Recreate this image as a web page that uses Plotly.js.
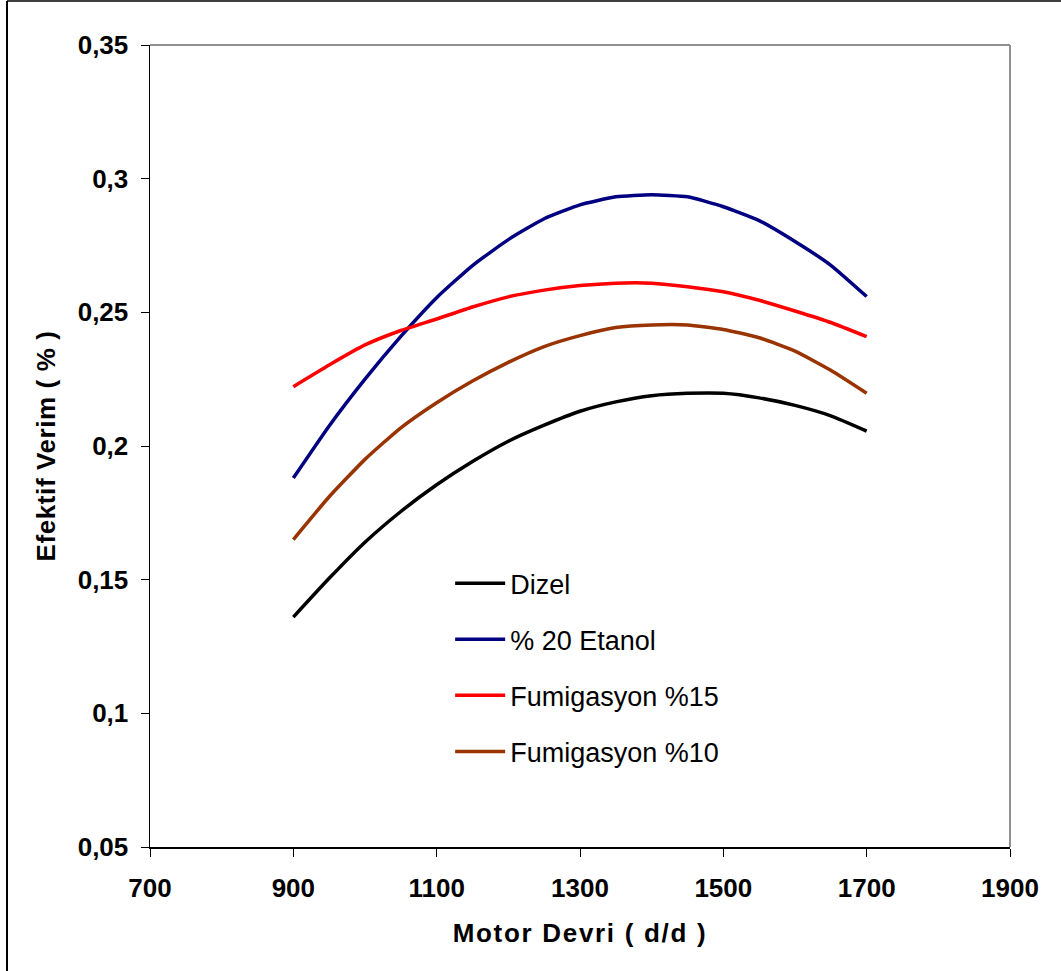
<!DOCTYPE html>
<html>
<head>
<meta charset="utf-8">
<script src="https://cdn.plot.ly/plotly-3.0.1.min.js"></script>
<style>html,body{margin:0;padding:0;background:#fff;}#chart{width:1061px;height:971px;}</style>
</head>
<body>
<div id="chart"></div>
<script>
const rpm = [900, 950, 1000, 1050, 1100, 1150, 1200, 1250, 1300, 1350, 1400, 1450, 1500, 1550, 1600, 1650, 1700];
const dizel = [0.136, 0.1505, 0.1640, 0.1755, 0.1855, 0.1942, 0.2018, 0.2078, 0.2130, 0.2165, 0.2188, 0.2197, 0.2197, 0.2180, 0.2152, 0.2113, 0.2056];
const etanol20 = [0.188, 0.2075, 0.2250, 0.2410, 0.2555, 0.2675, 0.2772, 0.2850, 0.2902, 0.2932, 0.2940, 0.2932, 0.2895, 0.2843, 0.2765, 0.2676, 0.2559];
const fumigasyon15 = [0.2222, 0.2303, 0.2378, 0.2432, 0.2475, 0.2520, 0.2558, 0.2583, 0.2600, 0.2609, 0.2609, 0.2596, 0.2577, 0.2545, 0.2505, 0.2462, 0.2409];
const fumigasyon10 = [0.165, 0.1810, 0.1950, 0.2068, 0.2162, 0.2243, 0.2313, 0.2372, 0.2413, 0.2443, 0.2453, 0.2453, 0.2436, 0.2405, 0.2355, 0.2283, 0.2197];
const seriesNames = ['Dizel', '% 20 Etanol', 'Fumigasyon %15', 'Fumigasyon %10'];
const seriesColors = ['#000000', '#000080', '#ff0000', '#993300'];
const xTicks = [700, 900, 1100, 1300, 1500, 1700, 1900];
const yTicks = [0.05, 0.1, 0.15, 0.2, 0.25, 0.3, 0.35];
const yTickLabels = ['0,05', '0,1', '0,15', '0,2', '0,25', '0,3', '0,35'];

const allSeries = [dizel, etanol20, fumigasyon15, fumigasyon10];
const traces = allSeries.map((ys, i) => ({
  x: rpm, y: ys, type: 'scatter', mode: 'lines', name: seriesNames[i],
  legendgroup: 'g' + i,
  line: {color: seriesColors[i], width: 3.5, shape: 'spline', smoothing: 0.5}
}));

const FONT = 'Liberation Sans, Arial, sans-serif';
const layout = {
  width: 1061, height: 971,
  paper_bgcolor: '#ffffff', plot_bgcolor: '#ffffff',
  margin: {l: 150, r: 51, t: 45, b: 124},
  font: {family: FONT, color: '#000'},
  xaxis: {
    range: [700, 1900], tickvals: xTicks, ticktext: xTicks.map(String),
    showgrid: false, zeroline: false, showline: true, linecolor: '#000', linewidth: 1.5,
    ticks: 'outside', ticklen: 8, tickcolor: '#000', tickwidth: 1,
    ticklabelstandoff: 9,
    tickfont: {size: 26, family: FONT, weight: 'bold', color: '#000'},
    title: {text: '<span style="letter-spacing:1.7px">Motor Devri ( d/d )</span>', font: {size: 26, weight: 'bold', color: '#000'}, standoff: 22}
  },
  yaxis: {
    range: [0.05, 0.35], tickvals: yTicks, ticktext: yTickLabels,
    showgrid: false, zeroline: false, showline: true, linecolor: '#000', linewidth: 1.5,
    ticks: 'outside', ticklen: 8, tickcolor: '#000', tickwidth: 1,
    ticklabelstandoff: 7,
    tickfont: {size: 26, family: FONT, weight: 'bold', color: '#000'},
    title: {text: '<span style="letter-spacing:0.6px">Efektif Verim ( % )</span>', font: {size: 26, weight: 'bold', color: '#000'}, standoff: 14}
  },
  showlegend: true,
  legend: {
    x: 0.349, y: 0.359, xanchor: 'left', yanchor: 'top',
    bgcolor: 'rgba(0,0,0,0)', borderwidth: 0,
    font: {size: 27, color: '#000', family: FONT},
    tracegroupgap: 18, itemwidth: 50, traceorder: 'grouped'
  },
  shapes: [
    {type: 'line', xref: 'paper', yref: 'paper', x0: 0, x1: 1, y0: 1, y1: 1, line: {color: '#909090', width: 2}},
    {type: 'line', xref: 'paper', yref: 'paper', x0: 1, x1: 1, y0: 0, y1: 1, line: {color: '#909090', width: 2}},
    {type: 'line', xref: 'paper', yref: 'paper', x0: -143/860, x1: 1.1, y0: 1 + 44/802, y1: 1 + 44/802, line: {color: '#404040', width: 2}},
    {type: 'line', xref: 'paper', yref: 'paper', x0: -143/860, x1: -143/860, y0: 1 + 44/802, y1: -0.2, line: {color: '#000', width: 2}}
  ]
};

Plotly.newPlot('chart', traces, layout, {displayModeBar: false, staticPlot: true});
</script>
</body>
</html>
